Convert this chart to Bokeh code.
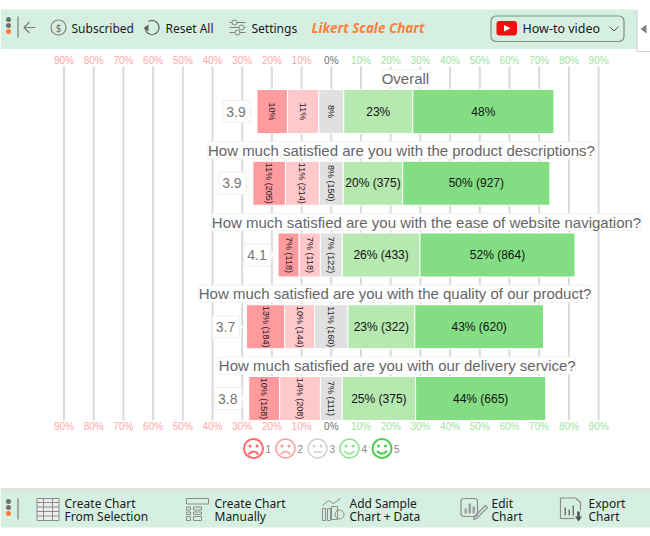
import math
from bokeh.plotting import figure
from bokeh.models import Range1d
from bokeh.core.properties import value
from bokeh.embed import file_html
from bokeh.resources import INLINE

# ---------- data ----------
TITLES = ["Overall",
          "How much satisfied are you with the product descriptions?",
          "How much satisfied are you with the ease of website navigation?",
          "How much satisfied are you with the quality of our product?",
          "How much satisfied are you with our delivery service?"]
SCORES = ["3.9", "3.9", "4.1", "3.7", "3.8"]
COUNT_1 = [665, 205, 118, 184, 158]
COUNT_2 = [684, 214, 118, 144, 208]
COUNT_3 = [543, 150, 122, 160, 111]
COUNT_4 = [1505, 375, 433, 322, 375]
COUNT_5 = [3076, 927, 864, 620, 665]
PCT_1 = [10, 11, 7, 13, 10]
PCT_2 = [11, 11, 7, 10, 14]
PCT_3 = [8, 8, 7, 11, 7]
PCT_4 = [23, 20, 26, 23, 25]
PCT_5 = [48, 50, 52, 43, 44]
SHOW_COUNTS = [False, True, True, True, True]
TICKS = [-90, -80, -70, -60, -50, -40, -30, -20, -10, 0, 10, 20, 30, 40, 50, 60, 70, 80, 90]
TICK_LABELS = ["90%", "80%", "70%", "60%", "50%", "40%", "30%", "20%", "10%", "0%",
               "10%", "20%", "30%", "40%", "50%", "60%", "70%", "80%", "90%"]
COLORS = ["#FF9A9E", "#FFC8CB", "#E0E0E0", "#B6E9AF", "#83DE83"]
FACE_COLORS = ["#FF6B6B", "#FF9A9A", "#CFCFCF", "#88E088", "#4CCB4C"]

W, H = 650, 536
PX_PER_PCT, ZERO_PX = 2.97, 330.8
ROW0_PX, ROW_PITCH = 111.0, 71.75

p = figure(width=W, height=H, output_backend="svg", toolbar_location=None,
           x_range=Range1d(-ZERO_PX / PX_PER_PCT, (W - ZERO_PX) / PX_PER_PCT),
           y_range=Range1d((H - ROW0_PX) / ROW_PITCH, -ROW0_PX / ROW_PITCH),
           x_axis_location=None, y_axis_location=None,
           min_border=0, outline_line_color=None,
           styles={"position": "absolute", "left": "0px", "top": "0px"})
p.grid.visible = False
p.extra_x_ranges["px"] = Range1d(0, W)
p.extra_y_ranges["px"] = Range1d(H, 0)
PX = dict(x_range_name="px", y_range_name="px")
SANS = value("Liberation Sans")
UI = value("Noto Sans")

# ---------- grid ----------
grid_top = (66 - ROW0_PX) / ROW_PITCH
grid_bot = (420 - ROW0_PX) / ROW_PITCH
p.segment(x0=TICKS, x1=TICKS, y0=[grid_top] * len(TICKS), y1=[grid_bot] * len(TICKS),
          line_color="#DADADA", line_width=2)

tick_colors = ["#FFA8A8"] * 9 + ["#707070"] + ["#A0E4A0"] * 9
for py in (60, 426):
    lab_y = (py - ROW0_PX) / ROW_PITCH
    p.text(x=TICKS, y=[lab_y] * len(TICKS), text=TICK_LABELS, text_color=tick_colors,
           text_font=SANS, text_font_size="10px", text_align="center", text_baseline="middle")

# ---------- bars ----------
rows = list(range(len(TITLES)))
counts = [COUNT_1, COUNT_2, COUNT_3, COUNT_4, COUNT_5]
pcts = [PCT_1, PCT_2, PCT_3, PCT_4, PCT_5]
totals = [sum(c[r] for c in counts) for r in rows]
shares = [[100 * c[r] / totals[r] for r in rows] for c in counts]
starts = [-(shares[0][r] + shares[1][r] + shares[2][r] / 2) for r in rows]
ends = [shares[2][r] / 2 + shares[3][r] + shares[4][r] for r in rows]

left = list(starts)
for k in range(5):
    right = [left[r] + shares[k][r] for r in rows]
    p.hbar(y=rows, left=left, right=right, height=44 / ROW_PITCH, fill_color=COLORS[k],
           line_color="white", line_width=1)
    labels = [f"{pcts[k][r]}% ({counts[k][r]})" if SHOW_COUNTS[r] else f"{pcts[k][r]}%" for r in rows]
    mids = [(left[r] + right[r]) / 2 for r in rows]
    if k < 3:
        p.text(x=mids, y=rows, text=labels, angle=-math.pi / 2, text_color="#222222", text_font=SANS,
               text_font_size="9px", text_align="center", text_baseline="middle")
    else:
        p.text(x=mids, y=rows, text=labels, text_color="#111111", text_font=SANS,
               text_font_size="12px", text_align="center", text_baseline="middle")
    left = right

# ---------- question titles ----------
centers = [(starts[r] + ends[r]) / 2 for r in rows]
title_y = [r - 33 / ROW_PITCH for r in rows]
p.text(x=centers, y=title_y, text=TITLES, text_color="#666666", text_font=SANS,
       text_font_size="15px", text_align="center", text_baseline="middle",
       background_fill_color="white", border_line_color="#F2F2F2", padding=0)

# ---------- score callouts ----------
score_x = [s - 21 / PX_PER_PCT for s in starts]
tip_x = [s - 3.5 / PX_PER_PCT for s in starts]
base_x = [s - 7 / PX_PER_PCT for s in starts]
box_l = [s - 34 / PX_PER_PCT for s in starts]
p.quad(left=box_l, right=base_x, top=[r - 11 / ROW_PITCH for r in rows],
       bottom=[r + 11 / ROW_PITCH for r in rows], fill_color="white", line_color="#F0F0F0")
for r in rows:
    p.patch(x=[base_x[r], tip_x[r], base_x[r]],
            y=[r - 4 / ROW_PITCH, r, r + 4 / ROW_PITCH],
            fill_color="white", line_color="#F0F0F0")
p.text(x=score_x, y=rows, text=SCORES, text_color="#777777", text_font=SANS,
       text_font_size="14px", text_align="center", text_baseline="middle")

# ---------- legend faces ----------
FACE_X = [253, 285, 317, 349, 381.5]
FACE_Y = 448
SAD = [True, True, False, False, False]
for i, fx in enumerate(FACE_X):
    c = FACE_COLORS[i]
    lw = 2 if i in (0, 4) else 1.5
    p.scatter(x=[fx], y=[FACE_Y], size=19, marker="circle", fill_color=None, line_color=c, line_width=lw, **PX)
    p.scatter(x=[fx - 3.5, fx + 3.5], y=[FACE_Y - 2.5] * 2, size=3, marker="circle",
              fill_color=c, line_color=None, **PX)
    if i == 2:
        p.line(x=[fx - 4, fx + 4], y=[FACE_Y + 3.5] * 2, line_color=c, line_width=1.5, **PX)
    else:
        cy = FACE_Y + (0 if SAD[i] else 8)
        my = FACE_Y + (6 if SAD[i] else 2.5)
        p.quadratic(x0=[fx - 5], y0=[my], x1=[fx + 5], y1=[my], cx=[fx], cy=[cy],
                    line_color=c, line_width=lw, **PX)
    p.text(x=[fx + 12], y=[FACE_Y + 0.5], text=[str(i + 1)], text_color="#888888",
           text_font=SANS, text_font_size="10px", text_baseline="middle", **PX)

# ---------- toolbars ----------
GREEN = "#D5F0E2"
ICON = "#7F7F7F"
p.quad(left=[0], right=[636.5], top=[9], bottom=[48.5], fill_color=GREEN, line_color=None, **PX)
p.quad(left=[0], right=[W], top=[489.5], bottom=[527], fill_color=GREEN, line_color=None, **PX)
p.segment(x0=[0], x1=[W], y0=[488.5], y1=[488.5], line_color="#E2E2E2", line_width=2, **PX)
p.segment(x0=[636.5, 636.5], x1=[636.5, W], y0=[9, 51], y1=[51, 51], line_color="#CFCFCF", line_width=1, **PX)
p.patch(x=[640, 646, 646], y=[28.5, 24, 33], fill_color="#808080", line_color=None, **PX)

def dots(y):
    p.scatter(x=[8, 8, 8], y=[y - 6, y, y + 6], size=5, marker="circle",
              fill_color=["#707070", "#707070", "#FF7A30"], line_color=None, **PX)
    p.segment(x0=[17.5], x1=[17.5], y0=[y - 9], y1=[y + 12], line_color="#666666", line_width=1, **PX)

dots(25)
dots(507)
p.line(x=[35, 23.5], y=[27, 27], line_color=ICON, line_width=1.2, **PX)
p.line(x=[29, 23.5, 29], y=[21.5, 27, 32.5], line_color=ICON, line_width=1.2, **PX)
p.scatter(x=[58], y=[27], size=15, marker="circle", fill_color=None, line_color=ICON, line_width=1.2, **PX)
p.text(x=[58], y=[27], text=["$"], text_color="#707070", text_font=UI, text_font_size="10px",
       text_align="center", text_baseline="middle", **PX)
# reset icon: an open ring, gap at upper left, arrow head on the left
ring = [math.radians(a) for a in range(-120, 175, 15)]
p.line(x=[151.5 + 7 * math.cos(a) for a in ring], y=[27 + 7 * math.sin(a) for a in ring],
       line_color="#606060", line_width=1.2, **PX)
p.patch(x=[143, 148, 148], y=[27.5, 24, 31], fill_color="#606060", line_color=None, **PX)
# settings sliders
p.segment(x0=[229, 229, 229], x1=[245, 245, 245], y0=[22, 27, 32], y1=[22, 27, 32],
          line_color=ICON, line_width=1, **PX)
p.scatter(x=[234, 241, 237], y=[22, 27, 32], size=5, marker="circle", fill_color=GREEN,
          line_color=ICON, **PX)

def ui_text(x, y, s, size="12px", color="#1A1A1A", **kw):
    p.text(x=[x], y=[y], text=[s], text_color=color, text_font=UI, text_font_size=size,
           text_baseline="middle", **PX, **kw)

ui_text(71, 27.5, "Subscribed")
ui_text(165, 27.5, "Reset All")
ui_text(251, 27.5, "Settings")
ui_text(311, 27, "Likert Scale Chart", size="13.5px", color="#FF7F3A", text_font_style="bold italic")

# video button
p.quad(left=[490.5], right=[623.5], top=[15.5], bottom=[41], fill_color=GREEN, line_color="#7F8F87",
       line_width=1.2, border_radius=5, **PX)
p.quad(left=[496], right=[516.5], top=[20.5], bottom=[35], fill_color="#F01010", line_color=None,
       border_radius=3, **PX)
p.patch(x=[503.5, 503.5, 510], y=[24.5, 31, 27.8], fill_color="white", line_color=None, **PX)
ui_text(522, 28, "How-to video", size="12.5px")
p.line(x=[609, 613.5, 618], y=[26, 30.5, 26], line_color="#555555", line_width=1, **PX)

# bottom toolbar
B1, B2 = 503, 516
for x, a, b in [(64, "Create Chart", "From Selection"), (214, "Create Chart", "Manually"),
                (349, "Add Sample", "Chart + Data"), (491, "Edit", "Chart"), (588, "Export", "Chart")]:
    ui_text(x, B1, a)
    ui_text(x, B2, b)

IC = "#8C8C8C"
# table icon
p.quad(left=[36.5], right=[58.5], top=[498], bottom=[520], fill_color="#EDEDED", line_color=IC, **PX)
p.segment(x0=[36.5] * 4, x1=[58.5] * 4, y0=[502, 506.5, 511, 515.5], y1=[502, 506.5, 511, 515.5], line_color=IC, **PX)
p.segment(x0=[43, 52], x1=[43, 52], y0=[498, 498], y1=[520, 520], line_color=IC, **PX)
# form icon
p.quad(left=[186], right=[208], top=[498], bottom=[503.5], fill_color=None, line_color=IC, **PX)
p.quad(left=[186, 186, 186, 193, 193, 193], right=[190, 190, 190, 201, 201, 201],
       top=[506.5, 511.5, 516, 506.5, 511.5, 516], bottom=[509.5, 514, 520, 509.5, 514, 520],
       fill_color=None, line_color=IC, **PX)
# sample icon
p.line(x=[322, 328, 333, 340], y=[505, 500, 503, 498], line_color=IC, **PX)
p.quad(left=[322, 327], right=[325, 330], top=[508, 508], bottom=[520, 520], fill_color=None, line_color=IC, **PX)
p.scatter(x=[339], y=[514], size=9, marker="circle", fill_color=None, line_color=IC, **PX)
p.quad(left=[331], right=[337], top=[506], bottom=[519], fill_color=None, line_color=IC, **PX)
# edit icon
p.quad(left=[460.5], right=[477], top=[498], bottom=[516], fill_color=None, line_color=IC,
       line_width=1.2, border_radius=3, **PX)
p.quad(left=[464, 468, 472], right=[466.5, 470.5, 474.5], top=[508, 503, 506], bottom=[513, 513, 513],
       fill_color="#A0A0A0", line_color=None, **PX)
p.line(x=[474, 485, 487, 476, 473, 474], y=[516, 505, 507, 518, 519, 516], line_color=IC, line_width=1.2, **PX)
# export icon
p.line(x=[560, 560, 575, 580, 580], y=[518, 497.5, 497.5, 502, 510], line_color=IC, line_width=1.2, **PX)
p.line(x=[560, 574], y=[518, 518], line_color=IC, line_width=1.2, **PX)
p.quad(left=[564, 568, 572], right=[565.5, 569.5, 573.5], top=[507, 509, 505], bottom=[515, 515, 515],
       fill_color="#707070", line_color=None, **PX)
p.segment(x0=[578], x1=[578], y0=[511], y1=[518], line_color="#505050", line_width=2.5, **PX)
p.patch(x=[574.5, 581.5, 578], y=[516, 516, 521], fill_color="#505050", line_color=None, **PX)

open("out.html", "w").write(file_html(p, INLINE))
